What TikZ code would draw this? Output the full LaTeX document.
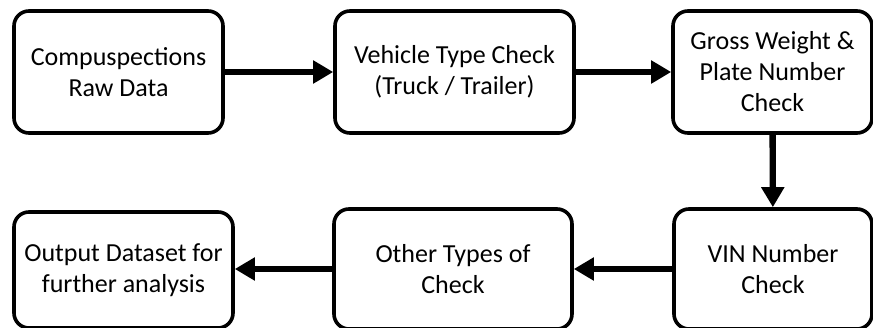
\documentclass[tikz,border=0pt]{standalone}
\usepackage{fontspec}
\setmainfont{Carlito}
\usetikzlibrary{arrows.meta}
\tikzset{
  stepbox/.style={draw, line width=1.8pt, rounded corners=7.5pt, align=center,
    inner sep=0pt, font=\fontsize{13}{15.5}\selectfont},
  flow/.style={line width=3.2pt, -{Triangle[length=10pt,width=11pt]}}
}
\begin{document}
\begin{tikzpicture}[x=0.5pt,y=-0.5pt]
        \useasboundingbox (0,0) rectangle (873,327);
        %% Top row
        \node[stepbox, minimum width=104.5pt, minimum height=61pt] (raw) at (118.5,72) {Compuspections\\Raw Data};
        \node[stepbox, minimum width=119.5pt, minimum height=61pt] (type) at (454.5,72) {Vehicle Type Check\\(Truck / Trailer)};
        \node[stepbox, minimum width=99.5pt, minimum height=61pt] (gross) at (772.5,72) {Gross Weight \&\\Plate Number\\Check};
        %% Bottom row
        \node[stepbox, minimum width=99pt, minimum height=60pt] (vin) at (773,269) {VIN Number\\Check};
        \node[stepbox, minimum width=119pt, minimum height=60pt] (other) at (453,269) {Other Types of\\Check};
        \node[stepbox, minimum width=109.5pt, minimum height=58pt] (output) at (123.5,270) {Output Dataset for\\further analysis};
        %% Flow
        \draw[flow] (raw) -- (type);
        \draw[flow] (type) -- (gross);
        \draw[flow] (gross) -- (vin);
        \draw[flow] (vin) -- (other);
        \draw[flow] (other.west) -- (other.west -| output.east);
    \end{tikzpicture}
\end{document}
